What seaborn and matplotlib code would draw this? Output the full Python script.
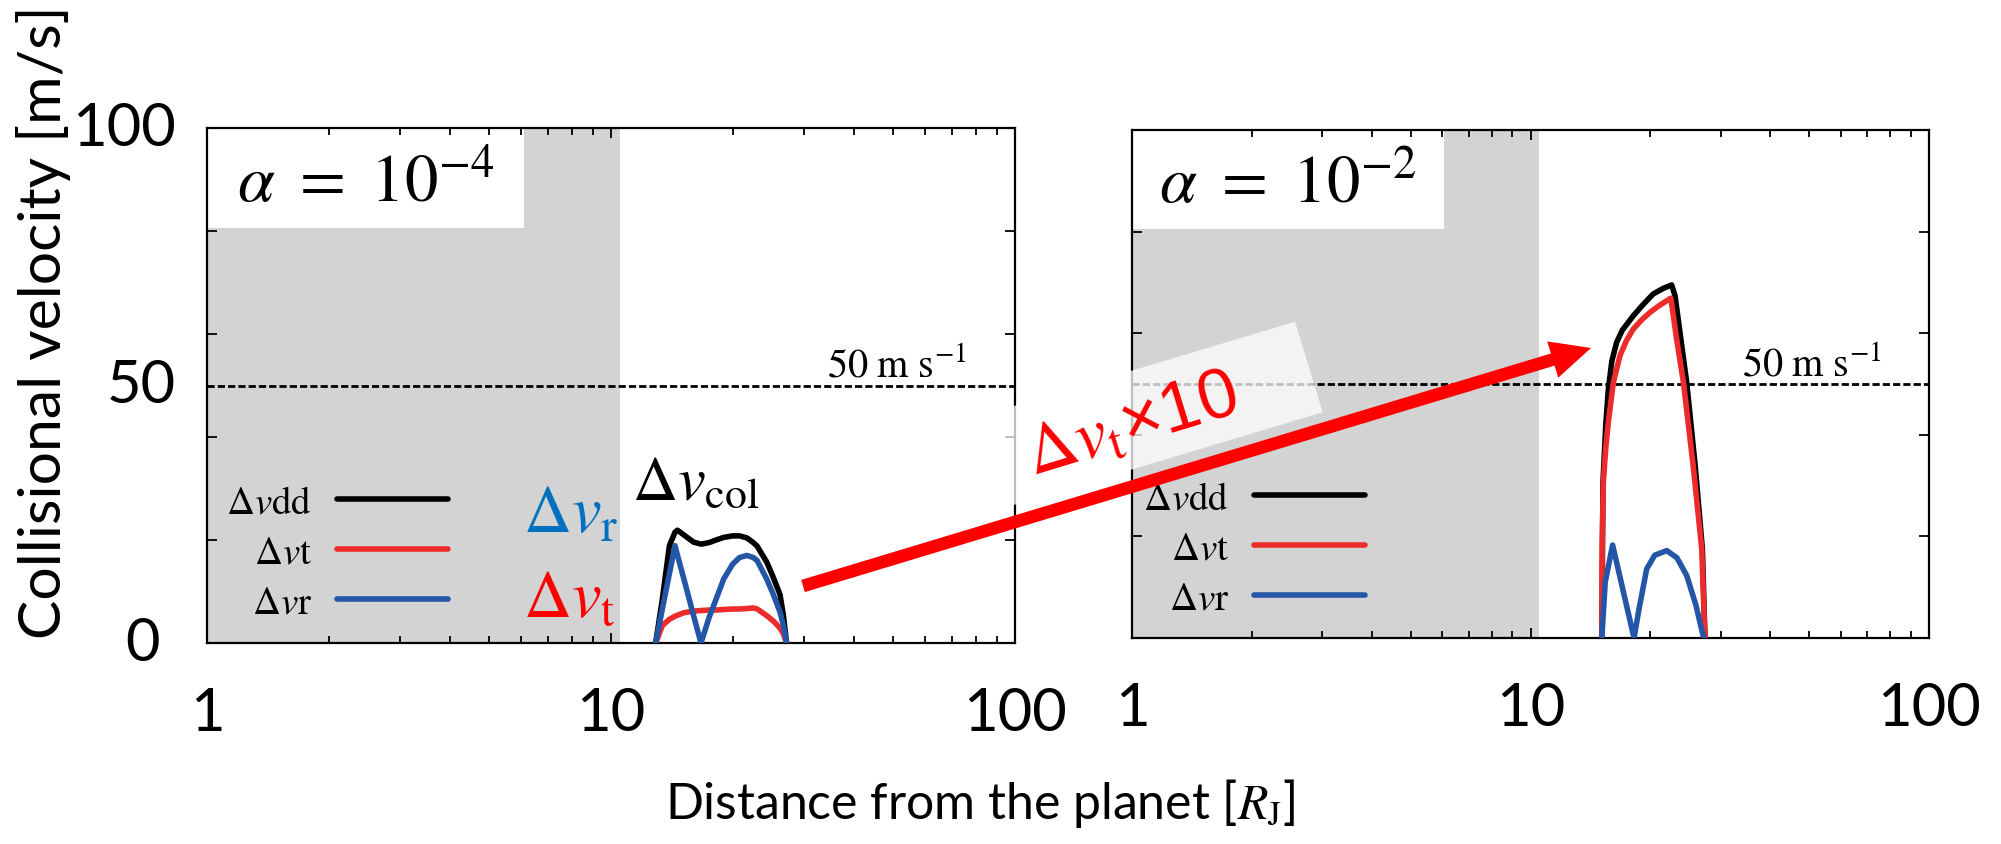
import numpy as np
import pandas as pd
import matplotlib
matplotlib.use('Agg')
import matplotlib.pyplot as plt
import seaborn as sns
import matplotlib.transforms as mtransforms
from matplotlib.ticker import FixedLocator, FixedFormatter, LogLocator, MultipleLocator, NullFormatter
from matplotlib.patches import Rectangle, Polygon, FancyArrow

# ---------------- data ----------------
# alpha = 1e-4 panel
r_left = [12.9, 13.4, 13.95, 14.4, 14.6, 15.2, 16.0, 16.7, 17.5, 18.2, 19.0,
          20.0, 20.8, 21.7, 22.5, 23.0, 24.3, 25.2, 26.2, 26.7, 27.2]
dvdd_left = [0, 8.5, 18.9, 21.5, 21.9, 20.9, 19.6, 19.2, 19.5, 20.0, 20.5,
             20.8, 20.8, 20.4, 19.5, 18.8, 15.7, 12.8, 9.4, 5.5, 0]
dvt_left = [0, 3.4, 4.6, 5.2, 5.4, 5.9, 6.2, 6.3, 6.4, 6.4, 6.5,
            6.6, 6.6, 6.7, 6.8, 6.6, 5.3, 4.3, 2.9, 1.8, 0]
dvr_left = [0, 6.6, 13.5, 18.9, 17.1, 12.0, 5.4, 0, 5.0, 8.5, 12.4,
            15.3, 16.6, 17.0, 16.6, 16.0, 12.4, 9.5, 6.0, 3.5, 0]

# alpha = 1e-2 panel
r_dd_right = [15.1, 15.2, 15.45, 15.68, 16.0, 16.45, 17.0, 18.1, 19.0, 20.3,
              21.5, 22.6, 23.05, 24.66, 25.9, 27.0, 27.4]
dvdd_right = [0, 30.6, 42.0, 49.0, 54.5, 58.2, 60.6, 63.4, 65.3, 67.7,
              68.8, 69.5, 67.4, 50.3, 33.9, 17.5, 0]
r_t_right = [15.1, 15.13, 15.23, 15.45, 15.68, 16.14, 16.77, 17.4, 18.1, 19.0,
             19.95, 21.0, 22.5, 23.3, 24.2, 25.6, 26.9, 27.4]
dvt_right = [0, 18.0, 30.6, 37.5, 42.5, 50.3, 55.6, 58.5, 60.8, 62.6,
             64.1, 65.4, 66.9, 58.5, 50.3, 33.9, 17.5, 0]
r_r_right = [15.1, 15.4, 16.07, 17.0, 18.19, 18.7, 19.57, 20.5, 21.97,
             23.3, 24.66, 26.0, 27.2]
dvr_right = [0, 11.0, 18.3, 10.0, 0, 5.5, 13.6, 16.3, 17.2,
             15.8, 12.3, 6.5, 0]

series_labels = [r'$\Delta\mathit{v}\mathrm{dd}$', r'$\Delta\mathit{v}\mathrm{t}$',
                 r'$\Delta\mathit{v}\mathrm{r}$']
series_colors = ['#000000', '#ee2b2b', '#2356a6']
panel_titles = [r'$\alpha\ =\ 10^{-4}$', r'$\alpha\ =\ 10^{-2}$']
x_ticks = [1, 10, 100]
x_ticklabels = ['1', '10', '100']
y_ticklabels = ['0', '50', '100']
gray_edge = 10.5
threshold = 50

# ---------------- style ----------------
sns.set_style('ticks')
SANS = ['Lato', 'DejaVu Sans']
plt.rcParams['font.family'] = SANS
plt.rcParams['mathtext.fontset'] = 'stix'
for k in ['text.color', 'axes.labelcolor', 'axes.edgecolor', 'xtick.color',
          'ytick.color', 'xtick.labelcolor', 'ytick.labelcolor']:
    plt.rcParams[k] = 'black'

W, H = 2001, 845
fig = plt.figure(figsize=(W / 100, H / 100), dpi=100)


def fx(p):
    return p / W


def fy(p):
    return 1 - p / H


axL = fig.add_axes([fx(207), fy(644), (1015 - 207) / W, (644 - 129) / H])
axR = fig.add_axes([fx(1132), fy(639), (1929 - 1132) / W, (639 - 131) / H])


def draw_panel(ax, curves, title, leg_anchor, thr_y):
    ax.set_xscale('log')
    ax.set_xlim(1, 100)
    ax.set_ylim(0, 100)
    ax.set_facecolor('white')
    ax.axvspan(1, gray_edge, color='#d3d3d3', lw=0, zorder=0)
    ax.add_patch(Rectangle((0, 0.806), 0.392, 0.194, transform=ax.transAxes,
                           fc='white', ec='none', zorder=0.5))
    ax.axhline(threshold, color='black', lw=2.0, ls=(0, (2.6, 1.1)), zorder=1)
    for (xs, ys), col, lab in zip(curves, series_colors, series_labels):
        df = pd.DataFrame({'r': xs, 'v': ys})
        sns.lineplot(data=df, x='r', y='v', color=col, lw=4.0, sort=False,
                     estimator=None, ax=ax, zorder=3, label=lab)
    if ax.get_legend() is not None:
        ax.get_legend().remove()
    handles = ax.get_lines()[1:]
    ax.legend(handles, series_labels, loc='center right',
              bbox_to_anchor=leg_anchor, bbox_transform=fig.transFigure,
              frameon=False, markerfirst=False, fontsize=28, handlelength=2.85,
              handletextpad=0.65, labelspacing=0.36, borderpad=0, borderaxespad=0)
    ax.text(0.196, 0.897, title, transform=ax.transAxes, fontsize=48,
            ha='center', va='center', zorder=4)
    tr = mtransforms.blended_transform_factory(ax.transAxes, ax.transData)
    ax.text(0.94, thr_y, r'$\mathrm{50\ m\ s^{-1}}$', transform=tr, ha='right',
            va='baseline', fontsize=29, zorder=4)
    ax.xaxis.set_major_locator(FixedLocator(x_ticks))
    ax.xaxis.set_major_formatter(FixedFormatter(x_ticklabels))
    ax.xaxis.set_minor_locator(LogLocator(base=10, subs=np.arange(2, 10)))
    ax.xaxis.set_minor_formatter(NullFormatter())
    ax.yaxis.set_major_locator(MultipleLocator(20))
    ax.tick_params(which='both', direction='in', top=True, right=True,
                   width=1.3, color='black')
    ax.tick_params(which='major', length=7)
    ax.tick_params(which='minor', length=5)
    ax.tick_params(axis='y', labelleft=False)
    ax.tick_params(axis='x', labelsize=43, pad=31, labelcolor='black')
    ax.set_xlabel('')
    ax.set_ylabel('')
    for s in ax.spines.values():
        s.set_linewidth(1.6)
        s.set_color('black')
        s.set_visible(True)


draw_panel(axL, [(r_left, dvdd_left), (r_left, dvt_left), (r_left, dvr_left)],
           panel_titles[0], (fx(448), fy(553)), 51.8)
draw_panel(axR, [(r_dd_right, dvdd_right), (r_t_right, dvt_right), (r_r_right, dvr_right)],
           panel_titles[1], (fx(1365), fy(549)), 51.6)

# y tick labels (left panel only)
trY = mtransforms.blended_transform_factory(fig.transFigure, axL.transData)
for val, lab in zip([0, 50, 100], y_ticklabels):
    if lab == '0':
        axL.text(fx(142), val, lab, transform=trY, ha='center', va='center',
                 fontsize=43, clip_on=False)
    else:
        axL.text(fx(176), val, lab, transform=trY, ha='right', va='center',
                 fontsize=43, clip_on=False)

# axis titles
ylab = fig.text(fx(44), fy(322), 'Collisional velocity [m/s]', rotation=90,
                ha='center', va='center', fontsize=44)
xlab = fig.text(fx(980), fy(804), r'Distance from the planet [$R_{\mathrm{J}}$]',
                ha='center', va='center', fontsize=44)

# fit axis titles to the reference lengths
renderer = fig.canvas.get_renderer()
bb = ylab.get_window_extent(renderer)
ylab.set_fontsize(ylab.get_fontsize() * 634.0 / bb.height)
bb = xlab.get_window_extent(renderer)
xlab.set_fontsize(xlab.get_fontsize() * 630.0 / bb.width)

# curve annotations
fig.text(fx(632), fy(500), r'$\Delta v_{\mathrm{col}}$', fontsize=45,
         ha='left', va='baseline')
fig.text(fx(523), fy(532), r'$\Delta v_{\mathrm{r}}$', fontsize=48,
         color='#0070c0', ha='left', va='baseline')
fig.text(fx(523), fy(617), r'$\Delta v_{\mathrm{t}}$', fontsize=48,
         color='#ff0000', ha='left', va='baseline')

# overlay: translucent box, arrow and "x10" note
ov = fig.add_axes([0, 0, 1, 1], zorder=10)
ov.set_xlim(0, W)
ov.set_ylim(H, 0)
ov.axis('off')
ov.patch.set_alpha(0)
ov.add_patch(Polygon([(975, 418.7), (1295, 322.7), (1322.7, 413.3), (1002.7, 509.3)],
                     closed=True, fc='white', ec='none', alpha=0.75))
ov.add_patch(FancyArrow(803, 587, 1591 - 803, 349 - 587, width=12.7,
                        head_width=38, head_length=40, length_includes_head=True,
                        color='#ff0000', lw=0))
ov.text(1033, 476, r'$\Delta v_{\mathrm{t}}$×10', rotation=17, rotation_mode='anchor',
        ha='left', va='baseline', color='#ff0000', fontsize=51,
        family=['Liberation Sans', 'DejaVu Sans'])

fig.savefig('out.png', dpi=100)
